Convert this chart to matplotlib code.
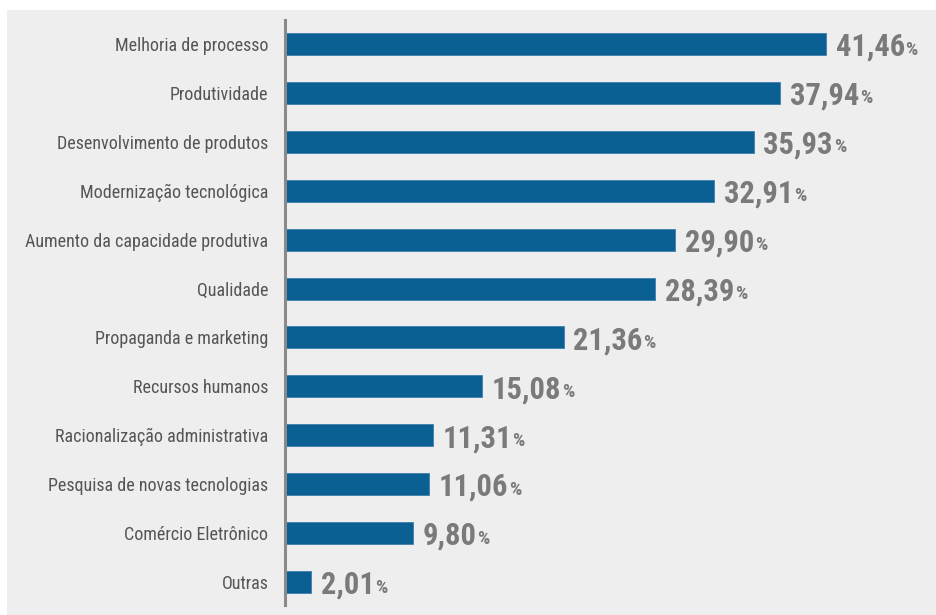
import matplotlib
matplotlib.use("Agg")
import matplotlib.pyplot as plt
from matplotlib.patches import Rectangle

categorias = ["Melhoria de processo", "Produtividade", "Desenvolvimento de produtos",
              "Modernização tecnológica", "Aumento da capacidade produtiva", "Qualidade",
              "Propaganda e marketing", "Recursos humanos", "Racionalização administrativa",
              "Pesquisa de novas tecnologias", "Comércio Eletrônico", "Outras"]
valores = [41.46, 37.94, 35.93, 32.91, 29.90, 28.39, 21.36, 15.08, 11.31, 11.06, 9.80, 2.01]

plt.rcParams['font.family'] = ['Roboto Condensed', 'Liberation Sans Narrow', 'DejaVu Sans']

fig = plt.figure(figsize=(9.36, 6.15), dpi=100)
fig.patch.set_facecolor("white")
fig.patches.append(Rectangle((7/936, 0), 1, (615-10)/615, transform=fig.transFigure,
                             facecolor="#eeeeee", edgecolor="none", zorder=-5))

ax = fig.add_axes([285/936, 10/615, 651/936, 585/615])
ax.set_facecolor("none")

pos = list(range(len(valores)))
ax.barh(pos, valores, height=0.45, color="#0a5f93", edgecolor="#3d7fae", linewidth=0.6)
ax.set_xlim(0, 49.9)
ax.set_ylim(11.47, -0.49)

ax.set_yticks(pos)
ax.set_yticklabels(categorias, fontsize=13, color="#555555")
ax.tick_params(axis="y", length=0, pad=12)
ax.set_xticks([])
for s in ["top", "right", "bottom"]:
    ax.spines[s].set_visible(False)
ax.spines["left"].set_color("#8a8a8a")
ax.spines["left"].set_linewidth(2.2)

fig.canvas.draw()
r = fig.canvas.get_renderer()
for i, v in enumerate(valores):
    t = ax.annotate(f"{v:.2f}".replace(".", ","), (v, i), xytext=(7, -2),
                    textcoords="offset points", ha="left", va="center",
                    fontsize=22, fontweight="bold", color="#7a7a7a")
    bb = t.get_window_extent(r)
    x, y = ax.transData.inverted().transform((bb.x1, (bb.y0 + bb.y1) / 2))
    ax.annotate("%", (x, i), xytext=(0.5, -4), textcoords="offset points",
                ha="left", va="center", fontsize=14, fontweight="bold", color="#7a7a7a")

fig.savefig("out.png", dpi=100, facecolor=fig.get_facecolor())
